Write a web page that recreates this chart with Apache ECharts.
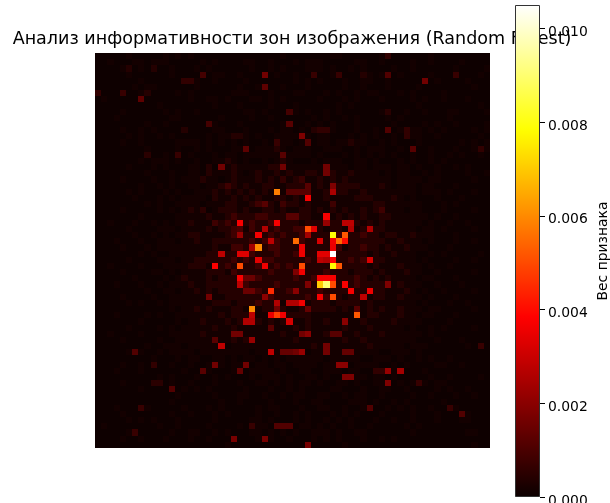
<!DOCTYPE html>
<html><head><meta charset="utf-8">
<script src="https://cdn.jsdelivr.net/npm/echarts@6/dist/echarts.min.js"></script>
<style>html,body{margin:0;padding:0;background:#fff}#c{width:610px;height:503px}</style>
</head><body><div id="c"></div>
<script>
const titleText = 'Анализ информативности зон изображения (Random Forest)';
const colorbarLabel = 'Вес признака';
const colorbarTicks = [0, 0.002, 0.004, 0.006, 0.008, 0.010];
const valueMax = 0.0105;
const gridSize = 64;
// Weight for each digit of the faint background rows below
const faintLevels = [0, 0.00005, 0.00015, 0.0004, 0.0008];
// Faint background, estimated per row
const faintRows = [
'1111121111121212111111111111112111111122111111211111112111111111',
'1121112212221111121211112211211121222111112211211112112111121111',
'1111231213112111212111111211212111222121121211112112111111211112',
'1111121111112111111221121112121121111121111321221211112111211121',
'1111111211111121211211112111111121212111211221121111111211112111',
'1111112122111111211111121122112111211111211211121111211111111211',
'1111211231111212111111222111211122111212112122111212111121111111',
'1211111111111112112212111221212111112111212111211112121121112111',
'1111111111211111111211121111211121111112121111111111211111111121',
'1111211111121211211111112212111121211212111111211121121112211112',
'1112111111112211111121111211211111121211212111121211111112111111',
'1111111121121111111211121111112211212121112111112111121211211112',
'1111211212111131111221112111212212132221112112111212212121111212',
'1111121211212111112122332121122223212211121212112112211211111121',
'1111211211111222212121212112122212112212232211212111211111121212',
'1111111121111211212111221122232122211222112122211212112111211212',
'1111111111121212111212212222222222212111212121212112112112121121',
'1111111212221211211223212112123211121222112212111212112121111111',
'1111121112121112213122322222332222222122212212221221211211212111',
'1111111121112112213222321232232322332132232222121221121211112112',
'1111211112112122232212322232323233223232322222221222212211111211',
'1111111211212112212234323223322333223233333222321222122111211111',
'1111121211121211222323232323232333222323322322222222122212111211',
'1111112111212122221322323232233232322322223332223212111211121111',
'1111111121211222212223322343322332322232222223322222211121211111',
'1111211111212123221233323223323223323232322323222212211121111211',
'1111111211111222223223433344333323322223232322332222221211211111',
'1121112112121223222434333433433332333333323232322222212112112111',
'1111121111222122223233432433343344433233232333322222122121111211',
'1111112112121223322223433343434334333334333433233223222111211111',
'1112111211222122322333333434343334334333333333322322212111211211',
'1111211121222222222322443333443333333344233433232232221112111111',
'1111111212112222223333334433343344334333333323223222112121111121',
'1111121111222122333333434334433333433433343433322222121111211211',
'1121111211122223332334323343343433333333333323222322212112111111',
'1111211112212122223332433333433343333433323332322232211211111211',
'1111112111121232223233333443333343343343334323232222122111211111',
'1112111211212223223333344333343333433333334333332322211211121111',
'1111111121122122323233332343333433334333333333322232121121111211',
'1111211112112222223223333333433333433433233323322322212111211111',
'1111121211212222222333233343332333233323333232222222121112112111',
'1111111111112122323222332323333223233332323232322322212211111211',
'1112111121211222222232333322332333322222223233222322122111211111',
'1111111211111212232223232232323222322322322322223222211112111111',
'1111121111212122222322322222322232322222322232222212112121111211',
'1121111211112222232222222222223222322322223222322222212111111111',
'1111211111211222222222323122222232222222322322222222111211121111',
'1111111121122212222221222222222222232322222232222212221111112111',
'1111121211212222122222222122122322122222222222112221211111111111',
'1111111112111212211221212212121222222122222112221211212112111111',
'1111211211112112112121222122122122221222112222112121111221121111',
'1112111211111121112111221222212112211222122112122211121111111111',
'1111111111212111211212111212221211221211122212212111112112111121',
'1111211111112112111211121122121212212112212112211212121221111111',
'1111111211111121212111112111211212111122111211221121111212112111',
'1111111111111211111211122112112122112211212211211112112111211211',
'1111111111112111111121121111211121122111122212112121111121111111',
'1112111121111121112121111121221112112211211211121212112112211111',
'1111211111112112111212111121121121211121212111211112111211112111',
'1111121212111211111211111221211121211212121112112112111211122111',
'1211111111211211112111121222111112212121121121111121211111111111',
'1111121111112112211212111221212121122212112211111112111111112211',
'1111211211121112112111211121211211121212111211212111111111111111',
'1111111111111111111112111111111111111111211111111111111111111211'
];
// Dim cells: [column, row, weight]
const dimCells = [
[27,3,.0016],[27,5,.0013],[7,7,.0013],[17,3,.0009],[14,4,.0006],[15,4,.0006],[0,6,.0006],[4,6,.0007],[24,15,.0013],[18,11,.0009],[30,18,.0016],[20,18,.0016],[31,11,.0012],[31,9,.0009],[30,16,.0012],[8,16,.0005],[13,16,.0007],[29,14,.0007],
[53,4,.0016],[33,13,.0018],[47,3,.0011],[39,3,.0007],[35,3,.0007],[58,3,.0007],[47,12,.0011],[51,15,.0012],[37,18,.0016],[34,14,.0011],[50,12,.0006],[50,13,.0006],[62,15,.0006],[47,0,.0006],[36,12,.0006],[37,12,.0006],[47,9,.0005],
[37,19,.0016],[33,20,.0007],[30,20,.0006],[27,24,.0012],[30,24,.0008],[38,24,.0008],[46,25,.0008],[17,25,.0005],[31,26,.0012],[32,26,.0012],[25,27,.0008],
[6,48,.0011],[9,50,.0006],[45,51,.0006],[46,51,.0006],[52,53,.0007],[9,53,.0005],[10,53,.0005],[12,54,.0011],[7,57,.0007],[44,57,.0011],[57,57,.0007],[59,58,.0011],[29,60,.0011],[30,60,.0011],[31,60,.0011],[25,60,.0007],[22,62,.0017],[27,62,.0017],[34,63,.0017],[6,61,.0007],[62,47,.0007]
];
// Mid-strength cells: [column, row, weight]
const midCells = [
[38,21,.0018],[38,22,.0025],[31,22,.0012],[32,22,.0012],[33,22,.0012],[34,22,.0012],[34,21,.0012],[37,27,.0022],[40,27,.0028],[41,27,.0028],[34,29,.0024],[23,29,.0022],[23,28,.001],[27,28,.0026],[41,28,.0026],[44,28,.0026],[35,28,.0034],[28,30,.0028],[25,31,.0024],[20,32,.0028],[23,32,.0033],[24,32,.0033],[36,32,.0034],[37,32,.0034],[36,33,.0028],[37,33,.0026],
[32,35,.0018],[24,36,.0015],[25,36,.0015],[23,37,.0028],[34,37,.0018],[24,38,.0015],[25,38,.0015],[32,38,.002],[47,37,.0018],[18,39,.0016],[27,39,.002],[43,39,.0028],[29,40,.0026],[29,41,.0016],[31,40,.0026],[32,40,.0026],[34,41,.0014],[25,42,.0028],[42,41,.0012],[24,43,.0026],[25,43,.0026],[40,43,.002],[28,44,.0012],[22,45,.0016],[23,45,.0016],[34,45,.002],[33,45,.0016],[38,45,.0012],[39,45,.0012],[19,46,.0012],[25,46,.0022],[20,47,.0028],
[28,48,.0028],[30,48,.0014],[31,48,.0014],[32,48,.0016],[33,48,.0022],[37,47,.0016],[37,48,.0016],[40,48,.0014],[41,48,.0014],[19,50,.0016],[24,50,.0016],[39,50,.002],[40,50,.002],[17,51,.0012],[23,51,.0014],[47,51,.0022],[49,51,.0024],[40,52,.0018],[41,52,.0018],[47,53,.0018]
];
// Hot cells: [column, row, weight]
const hotCells = [
[29,22,.0058],[34,23,.0037],[37,26,.0037],[23,27,.0037],[29,27,.0037],[34,28,.005],[26,29,.0037],[38,29,.0079],[40,29,.0052],[32,30,.0055],[36,30,.0032],[38,30,.0036],[39,30,.0055],[40,30,.004],[26,31,.006],[33,31,.0036],[33,32,.0036],[38,32,.0105],[38,31,.0035],[38,33,.0038],[26,33,.0034],[44,33,.0032],
[19,34,.0038],[23,34,.005],[27,34,.0036],[33,34,.005],[38,34,.0078],[39,34,.0052],[33,35,.0036],[23,36,.0037],[36,36,.0037],[37,36,.0037],[38,36,.0037],[36,37,.007],[37,37,.009],[38,37,.005],[40,37,.0037],[28,38,.0045],[41,38,.0037],[44,38,.0036],[36,39,.0037],[38,39,.005],[33,40,.0036],[25,41,.006],[28,42,.0035],[29,42,.0048],[30,42,.0036],[42,42,.0052],[31,43,.0032]
];

function hot(t) {
  const r = Math.min(1, 0.0416 + t / 0.365 * 0.9584);
  const g = Math.max(0, Math.min(1, (t - 0.365) / 0.381));
  const b = Math.max(0, Math.min(1, (t - 0.746) / 0.254));
  return 'rgb(' + [r, g, b].map(v => Math.round(v * 255)).join(',') + ')';
}
const rampSteps = Array.from({length: 129}, (_, i) => i / 128);
const cells = new Map();
faintRows.forEach((row, r) => { for (let c = 0; c < gridSize; c++) cells.set(c + ',' + r, faintLevels[+row[c] || 1]); });
[dimCells, midCells, hotCells].forEach(list => list.forEach(([c, r, v]) => cells.set(c + ',' + r, v)));
const heatData = [];
cells.forEach((v, k) => { const [c, r] = k.split(',').map(Number); heatData.push([c, r, v]); });
const indices = Array.from({length: gridSize}, (_, i) => i);

function renderCell(params, api) {
  const center = api.coord([api.value(0), api.value(1)]);
  const size = api.size([1, 1]);
  const x0 = Math.round(center[0] - size[0] / 2), x1 = Math.round(center[0] + size[0] / 2);
  const y0 = Math.round(center[1] - size[1] / 2), y1 = Math.round(center[1] + size[1] / 2);
  return {type: 'rect', shape: {x: x0, y: y0, width: x1 - x0, height: y1 - y0},
    style: {fill: api.visual('color')}, silent: true};
}

const chart = echarts.init(document.getElementById('c'), null, {renderer: 'canvas'});
chart.setOption({
  animation: false,
  backgroundColor: '#fff',
  title: {text: titleText, left: 287, top: 25, textAlign: 'center', z: 0,
    textStyle: {fontFamily: 'DejaVu Sans', fontSize: 17.55, fontWeight: 'normal', color: '#000'}},
  grid: [
    {left: 95, top: 53, width: 395, height: 395, show: false, outerBoundsMode: 'none'},
    {left: 515, top: 5, width: 25, height: 492, show: false, outerBoundsMode: 'none'}
  ],
  xAxis: [
    {type: 'category', gridIndex: 0, data: indices, show: false},
    {type: 'category', gridIndex: 1, data: [0], show: false}
  ],
  yAxis: [
    {type: 'category', gridIndex: 0, data: indices, inverse: true, show: false},
    {type: 'value', gridIndex: 1, min: 0, max: valueMax, position: 'right',
      name: colorbarLabel, nameLocation: 'middle', nameRotate: 90, nameGap: 56,
      nameTextStyle: {fontFamily: 'DejaVu Sans', fontSize: 13.9, color: '#000'},
      splitLine: {show: false},
      axisLine: {show: false},
      axisTick: {show: true, length: 5, customValues: colorbarTicks, lineStyle: {color: '#000', width: 1}},
      axisLabel: {customValues: colorbarTicks, margin: 8, verticalAlign: 'top', lineHeight: 8,
        fontFamily: 'DejaVu Sans', fontSize: 13.9, color: '#000',
        formatter: v => Number(v).toFixed(3)}}
  ],
  visualMap: {show: false, type: 'continuous', seriesIndex: 0, min: 0, max: valueMax, dimension: 2,
    inRange: {color: rampSteps.map(hot)}},
  series: [
    {type: 'custom', xAxisIndex: 0, yAxisIndex: 0, data: heatData, renderItem: renderCell, progressive: 0,
      encode: {x: 0, y: 1}, silent: true},
    {type: 'bar', xAxisIndex: 1, yAxisIndex: 1, data: [valueMax], barWidth: '100%', z: 5, silent: true,
      itemStyle: {borderColor: '#333', borderWidth: 1,
        color: new echarts.graphic.LinearGradient(0, 1, 0, 0, rampSteps.map(t => ({offset: t, color: hot(t)})))}}
  ]
});
</script></body></html>
